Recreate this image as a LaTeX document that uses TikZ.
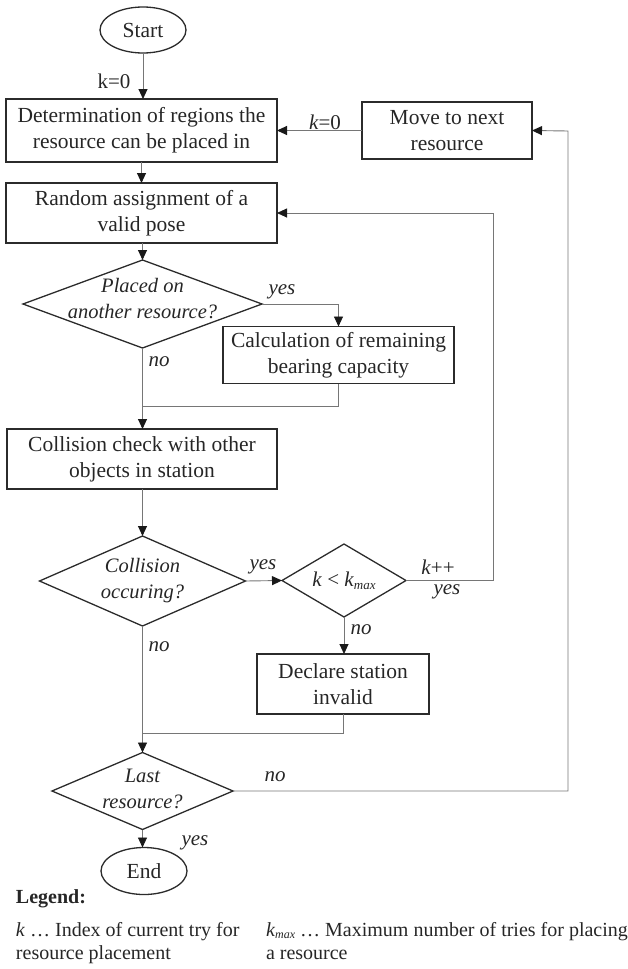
\documentclass[tikz,border=0pt]{standalone}
\usepackage{fontspec}
\setmainfont{Liberation Serif}
\usetikzlibrary{shapes.geometric,arrows.meta}

\definecolor{ink}{HTML}{262626}
\definecolor{frame}{HTML}{2B2B2B}
\definecolor{wire}{HTML}{767676}

\newcommand{\boxfont}{\fontsize{21.5}{26}\selectfont}
\newcommand{\askfont}{\fontsize{20.5}{26}\selectfont\itshape}
\newcommand{\legfont}{\fontsize{20}{23}\selectfont}
\newcommand{\kmaxsym}[1]{\textit{k}\raisebox{-0.3ex}{\fontsize{#1}{#1}\selectfont\itshape max}}

\begin{document}
\begin{tikzpicture}[x=1pt,y=-1pt,
  every node/.style={text=ink, inner sep=0pt, outer sep=0pt},
  procbox/.style={draw=frame, line width=1.3pt, rectangle, align=center, font=\boxfont},
  terminal/.style={draw=frame, line width=1.3pt, ellipse, font=\boxfont},
  decision/.style={draw=frame, line width=1.3pt, diamond},
  asktext/.style={align=center, font=\askfont},
  flow/.style={draw=wire, line width=0.9pt, -{Triangle[length=10pt,width=9pt,color=black!90]}},
  joint/.style={draw=wire, line width=0.9pt},
  tag/.style={font=\fontsize{21}{26}\selectfont\itshape},
  plaintag/.style={font=\fontsize{21}{26}\selectfont},
  legline/.style={anchor=base west, font=\legfont},
]
\useasboundingbox (0,0) rectangle (628,969);

% --- process steps ---
\node[terminal, minimum width=86pt, minimum height=46pt] (start) at (143,30) {Start};
\node[procbox, minimum width=271pt, minimum height=63pt] (det) at (141.5,130.5)
  {Determination of regions the\\resource can be placed in};
\node[procbox, minimum width=170pt, minimum height=57pt] (move) at (447,130.5)
  {Move to next\\resource};
\node[procbox, minimum width=271pt, minimum height=60pt] (rand) at (141.5,213)
  {Random assignment of a\\valid pose};
\node[decision, minimum width=239pt, minimum height=88pt] (d1) at (142.5,304) {};
\node[asktext] (d1t) at (142.5,298.5) {Placed on\\another resource?};
\node[procbox, minimum width=231pt, minimum height=57pt] (calc) at (338.5,355)
  {Calculation of remaining\\bearing capacity};
\node[procbox, minimum width=270pt, minimum height=60pt] (coll) at (142,459)
  {Collision check with other\\objects in station};
\node[decision, minimum width=206pt, minimum height=90pt] (d2) at (142.5,581) {};
\node[asktext] (d2t) at (d2) {Collision\\occuring?};
\node[decision, minimum width=124pt, minimum height=73pt] (d3) at (344,580.5) {};
\node[font=\fontsize{21}{26}\selectfont] (d3t) at (d3) {\textit{k} < \kmaxsym{13}};
\node[procbox, minimum width=172pt, minimum height=60pt] (decl) at (343,684)
  {Declare station\\invalid};
\node[decision, minimum width=181pt, minimum height=77pt] (d4) at (142.5,791) {};
\node[asktext] (d4t) at (142.5,789) {Last\\resource?};
\node[terminal, minimum width=86pt, minimum height=47pt] (end) at (144,871) {End};

% --- bends and joins ---
\coordinate (join1) at (142.5,406);
\coordinate (join2) at (142.5,733);
\coordinate (retry) at (493,213);
\coordinate (next) at (568,131);

% --- connectors ---
\draw[flow] (start) -- (start |- det.north);
\draw[flow] (move) -- (det);
\draw[flow] (det.south -| rand) -- (rand);
\draw[flow] (rand.south -| d1) -- (d1);
\draw[flow] (d1.east) -| (calc.north);
\draw[joint] (calc.south) |- (join1);
\draw[flow] (d1.south) -- (d1.south |- coll.north);
\draw[flow] (coll.south -| d2) -- (d2);
\draw[flow] (d2.east) -- (d3.west);
\draw[flow] (d3.east) -| (retry) -- (rand.east);
\draw[flow] (d3.south) -- (d3.south |- decl.north);
\draw[joint] (decl.south) |- (join2);
\draw[flow] (d2.south) -- (d4.north);
\draw[flow] (d4.east) -| (next) -- (move.east);
\draw[flow] (d4.south) -- (d4.south |- end.north);

% --- branch labels ---
\node[plaintag] (lk0) at (114,81) {k=0};
\node[plaintag] (lk0b) at (325,122) {\textit{k}=0};
\node[tag] (ly1) at (282,292) {yes};
\node[tag] (ln1) at (159,362) {no};
\node[tag] (ly2) at (263,567) {yes};
\node[plaintag] (lkpp) at (438,567) {\textit{k}++};
\node[tag] (ly3) at (447,592) {yes};
\node[tag] (ln3) at (361,630) {no};
\node[tag] (ln2) at (159,647) {no};
\node[tag] (ln4) at (275,777) {no};
\node[tag] (ly4) at (195,843) {yes};

% --- legend ---
\node[legline] (leghead) at (16,903) {\textbf{Legend:}};
\node[legline] (legka) at (16,936) {\textit{k} … Index of current try for};
\node[legline] (legkb) at (16,959) {resource placement};
\node[legline] (legma) at (266,936) {\kmaxsym{12} … Maximum number of tries for placing};
\node[legline] (legmb) at (266,959) {a resource};
\end{tikzpicture}
\end{document}
